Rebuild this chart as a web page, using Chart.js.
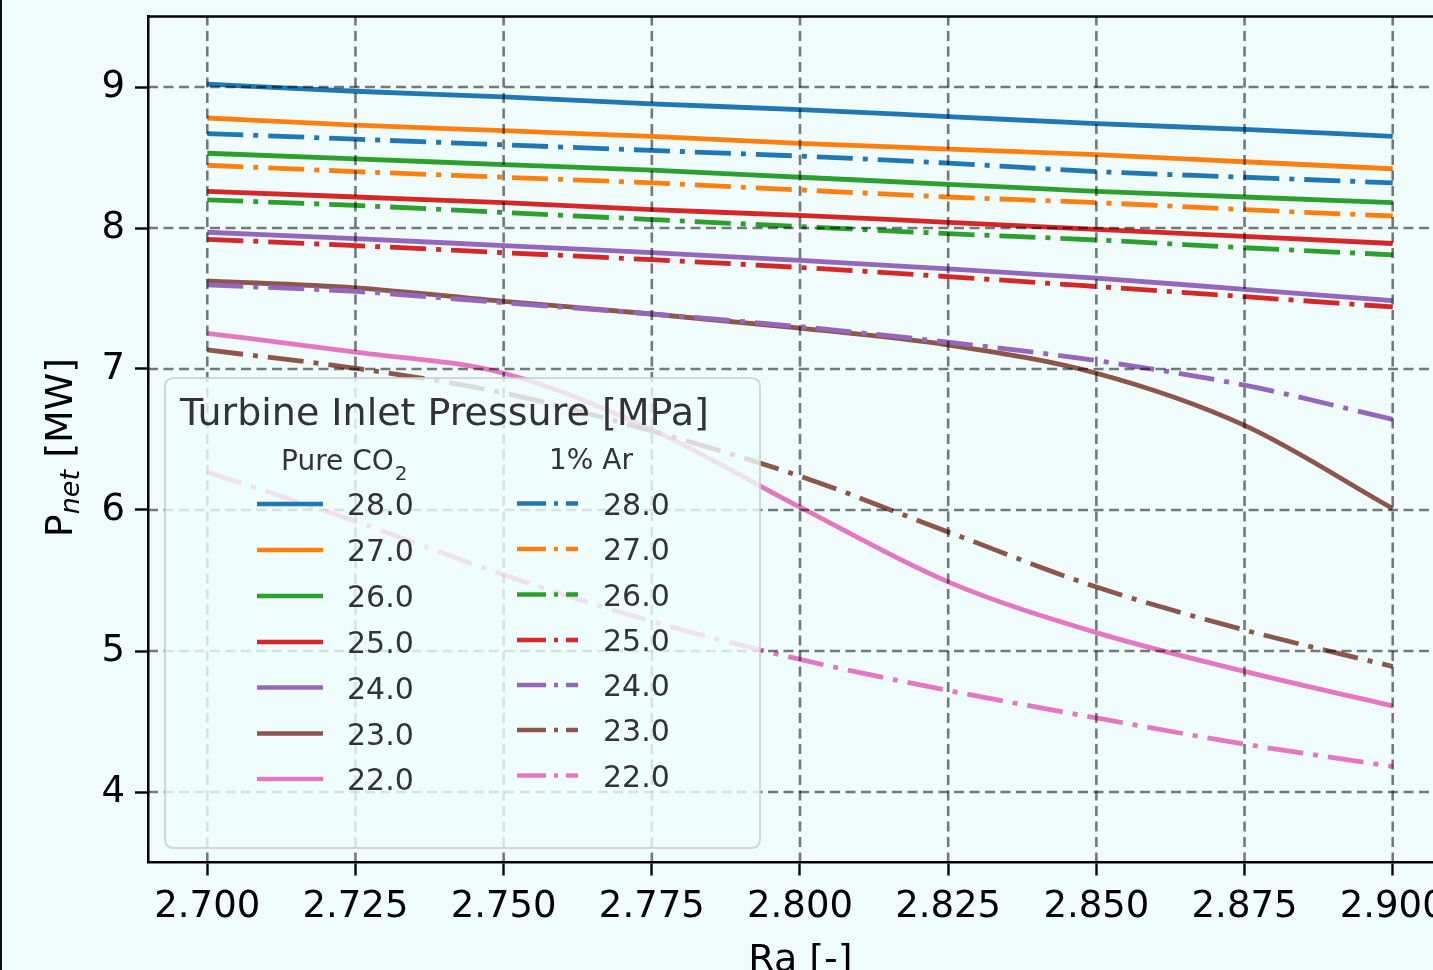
<!DOCTYPE html>
<html>
<head>
<meta charset="utf-8">
<script src="https://cdn.jsdelivr.net/npm/chart.js@4.4.1/dist/chart.umd.min.js"></script>
<style>
  html, body { margin: 0; padding: 0; overflow: hidden; background: #f0fcfc; width: 1433px; height: 970px; }
  canvas { display: block; }
</style>
</head>
<body>
<canvas id="c" width="1500" height="1010" style="width:1500px;height:1010px"></canvas>
<script>
// ---- data ----
const ra = [2.700, 2.725, 2.750, 2.775, 2.800, 2.825, 2.850, 2.875, 2.900];
const xTicks = [2.700, 2.725, 2.750, 2.775, 2.800, 2.825, 2.850, 2.875, 2.900];
const yTicks = [4, 5, 6, 7, 8, 9];
const pressures = ['28.0', '27.0', '26.0', '25.0', '24.0', '23.0', '22.0'];

// Pure CO2 (solid)
const pure28 = [9.02, 8.97, 8.93, 8.88, 8.84, 8.79, 8.74, 8.70, 8.65];
const pure27 = [8.78, 8.73, 8.69, 8.65, 8.60, 8.56, 8.52, 8.47, 8.42];
const pure26 = [8.53, 8.49, 8.45, 8.41, 8.36, 8.31, 8.26, 8.22, 8.18];
const pure25 = [8.26, 8.22, 8.18, 8.13, 8.09, 8.04, 7.99, 7.94, 7.89];
const pure24 = [7.97, 7.925, 7.875, 7.825, 7.77, 7.71, 7.645, 7.565, 7.485];
const pure23 = [7.625, 7.575, 7.48, 7.39, 7.29, 7.17, 6.97, 6.60, 6.01];
const pure22 = [7.253, 7.12, 6.97, 6.57, 6.02, 5.49, 5.13, 4.855, 4.61];

// 1% Ar (dash-dot)
const ar28 = [8.67, 8.63, 8.59, 8.55, 8.51, 8.46, 8.40, 8.36, 8.32];
const ar27 = [8.445, 8.40, 8.36, 8.32, 8.27, 8.22, 8.18, 8.13, 8.085];
const ar26 = [8.20, 8.16, 8.11, 8.06, 8.01, 7.96, 7.915, 7.86, 7.81];
const ar25 = [7.92, 7.875, 7.825, 7.775, 7.72, 7.655, 7.585, 7.513, 7.44];
const ar24 = [7.596, 7.55, 7.47, 7.39, 7.30, 7.19, 7.06, 6.885, 6.643];
const ar23 = [7.135, 7.005, 6.83, 6.56, 6.24, 5.844, 5.454, 5.149, 4.89];
const ar22 = [6.27, 5.92, 5.54, 5.21, 4.94, 4.72, 4.525, 4.34, 4.18];

const pureSeries = [pure28, pure27, pure26, pure25, pure24, pure23, pure22];
const arSeries = [ar28, ar27, ar26, ar25, ar24, ar23, ar22];
const colors = ['#1f77b4', '#ff7f0e', '#2ca02c', '#d62728', '#9467bd', '#8c564b', '#e377c2'];

// ---- styles ----
const LW = 4.8;
const DASHDOT = [36, 10, 5, 10];
const BG = '#f0fcfc';
const FONT = "'DejaVu Sans', 'Liberation Sans', sans-serif";

const datasets = [];
pureSeries.forEach((s, i) => {
  datasets.push({
    label: 'Pure CO2 ' + pressures[i],
    data: ra.map((x, j) => ({ x: x, y: s[j] })),
    borderColor: colors[i], borderWidth: LW, pointRadius: 0,
    cubicInterpolationMode: 'monotone', fill: false, order: -i, group: 'pure'
  });
});
arSeries.forEach((s, i) => {
  datasets.push({
    label: '1% Ar ' + pressures[i],
    data: ra.map((x, j) => ({ x: x, y: s[j] })),
    borderColor: colors[i], borderWidth: LW, pointRadius: 0, borderDash: DASHDOT,
    cubicInterpolationMode: 'monotone', fill: false, order: -(7 + i), group: 'ar'
  });
});

function roundRect(ctx, x, y, w, h, r) {
  ctx.beginPath();
  ctx.moveTo(x + r, y);
  ctx.lineTo(x + w - r, y); ctx.quadraticCurveTo(x + w, y, x + w, y + r);
  ctx.lineTo(x + w, y + h - r); ctx.quadraticCurveTo(x + w, y + h, x + w - r, y + h);
  ctx.lineTo(x + r, y + h); ctx.quadraticCurveTo(x, y + h, x, y + h - r);
  ctx.lineTo(x, y + r); ctx.quadraticCurveTo(x, y, x + r, y);
  ctx.closePath();
}

const overlay = {
  id: 'overlay',
  beforeDraw(chart) {
    const ctx = chart.ctx;
    ctx.save();
    ctx.fillStyle = BG;
    ctx.fillRect(0, 0, chart.width, chart.height);
    ctx.restore();
  },
  afterDatasetsDraw(chart) {
    const { ctx, chartArea: a, scales: { x, y } } = chart;
    // grid on top of lines
    ctx.save();
    ctx.beginPath(); ctx.rect(a.left, a.top, a.right - a.left, a.bottom - a.top); ctx.clip();
    ctx.strokeStyle = 'rgba(0,0,0,0.52)';
    ctx.lineWidth = 2.6;
    ctx.setLineDash([10, 5.5]);
    xTicks.forEach(v => {
      const px = x.getPixelForValue(v);
      ctx.beginPath(); ctx.moveTo(px, a.bottom); ctx.lineTo(px, a.top); ctx.stroke();
    });
    yTicks.forEach(v => {
      const py = y.getPixelForValue(v);
      ctx.beginPath(); ctx.moveTo(a.left, py); ctx.lineTo(a.right, py); ctx.stroke();
    });
    ctx.restore();

    // top and right spines
    ctx.save();
    ctx.strokeStyle = '#000'; ctx.lineWidth = 2.5;
    ctx.beginPath(); ctx.moveTo(a.left, a.top); ctx.lineTo(a.right, a.top); ctx.lineTo(a.right, a.bottom); ctx.stroke();
    ctx.restore();

    // legend
    ctx.save();
    const bx = 165, by = 378, bw = 595, bh = 470;
    roundRect(ctx, bx, by, bw, bh, 9);
    ctx.fillStyle = 'rgba(240,252,252,0.8)';
    ctx.fill();
    ctx.strokeStyle = 'rgba(204,204,204,0.8)';
    ctx.lineWidth = 2;
    ctx.stroke();

    ctx.fillStyle = '#333';
    ctx.textBaseline = 'alphabetic';
    ctx.textAlign = 'left';
    ctx.font = '38px ' + FONT;
    ctx.fillText('Turbine Inlet Pressure [MPa]', 180, 425);

    // column headers
    ctx.font = '28px ' + FONT;
    ctx.fillText('Pure CO', 281, 470);
    const wCO = ctx.measureText('Pure CO').width;
    ctx.font = '20px ' + FONT;
    ctx.fillText('2', 281 + wCO + 1, 480);
    ctx.font = '28px ' + FONT;
    ctx.fillText('1% Ar', 549, 469);

    // entries
    ctx.font = '30px ' + FONT;
    const pureRowY = [504, 550, 596, 642, 687.5, 733.5, 779];
    const arRowY = [503.5, 549, 594.5, 640, 685, 730, 775.5];
    chart.data.datasets.forEach(ds => {
      const i = pressures.indexOf(ds.label.split(' ').pop());
      const isAr = ds.group === 'ar';
      const ry = isAr ? arRowY[i] : pureRowY[i];
      const hx0 = isAr ? 517 : 257;
      const hx1 = isAr ? 578 : 323;
      const lx = isAr ? 603 : 347;
      ctx.save();
      ctx.strokeStyle = ds.borderColor;
      ctx.lineWidth = 4.4;
      ctx.lineCap = 'butt';
      ctx.setLineDash(isAr ? [29, 8, 4, 8] : []);
      ctx.beginPath(); ctx.moveTo(hx0, ry); ctx.lineTo(hx1, ry); ctx.stroke();
      ctx.restore();
      ctx.fillStyle = '#333';
      ctx.fillText(pressures[i], lx, ry + 11);
    });
    ctx.restore();
  },
  afterDraw(chart) {
    const ctx = chart.ctx;
    ctx.save();
    ctx.fillStyle = '#000';
    ctx.textBaseline = 'alphabetic';
    // y title: P_net [MW]
    ctx.translate(72, 447.5);
    ctx.rotate(-Math.PI / 2);
    ctx.font = '38px ' + FONT;
    const wP = ctx.measureText('P').width;
    const wB = ctx.measureText(' [MW]').width;
    ctx.font = 'italic 27px ' + FONT;
    const wN = ctx.measureText('net').width;
    const total = wP + wN + wB;
    let cx = -total / 2;
    ctx.font = '38px ' + FONT;
    ctx.fillText('P', cx, 0); cx += wP;
    ctx.font = 'italic 27px ' + FONT;
    ctx.fillText('net', cx, 7); cx += wN;
    ctx.font = '38px ' + FONT;
    ctx.fillText(' [MW]', cx, 0);
    ctx.restore();

    ctx.save();
    ctx.fillStyle = '#000';
    ctx.font = '38px ' + FONT;
    ctx.textAlign = 'center';
    ctx.textBaseline = 'alphabetic';
    ctx.fillText('Ra [-]', 800.5, 971);
    ctx.restore();

    // dark frame line at the left edge of the picture
    ctx.save();
    ctx.fillStyle = '#111';
    ctx.fillRect(0, 0, 2, chart.height);
    ctx.restore();
  }
};

new Chart(document.getElementById('c'), {
  type: 'line',
  data: { datasets: datasets },
  plugins: [overlay],
  options: {
    responsive: false,
    animation: false,
    devicePixelRatio: 1,
    layout: { padding: { left: 0, top: 16.5, right: 48, bottom: 0 } },
    plugins: { legend: { display: false }, tooltip: { enabled: false } },
    elements: { line: { borderCapStyle: 'butt', borderJoinStyle: 'round' } },
    scales: {
      x: {
        type: 'linear', min: 2.69, max: 2.91,
        afterBuildTicks: s => { s.ticks = xTicks.map(v => ({ value: v })); },
        afterFit: s => { s.height = 147.5; s.paddingLeft = 0; s.paddingRight = 0; },
        ticks: {
          callback: v => Number(v).toFixed(3), autoSkip: false, maxRotation: 0, minRotation: 0,
          font: { family: FONT, size: 37 }, color: '#000', padding: 10
        },
        grid: { drawOnChartArea: false, drawTicks: true, tickLength: 13, tickWidth: 2.4, tickColor: '#000', color: 'rgba(0,0,0,0)' },
        border: { display: true, color: '#000', width: 2.5 }
      },
      y: {
        type: 'linear', min: 3.5, max: 9.5,
        afterBuildTicks: s => { s.ticks = yTicks.map(v => ({ value: v })); },
        afterFit: s => { s.width = 148; s.paddingTop = 0; s.paddingBottom = 0; },
        ticks: {
          callback: v => String(v), autoSkip: false,
          font: { family: FONT, size: 37 }, color: '#000', padding: 10
        },
        grid: { drawOnChartArea: false, drawTicks: true, tickLength: 13, tickWidth: 2.4, tickColor: '#000', color: 'rgba(0,0,0,0)' },
        border: { display: true, color: '#000', width: 2.5 }
      }
    }
  }
});
</script>
</body>
</html>
